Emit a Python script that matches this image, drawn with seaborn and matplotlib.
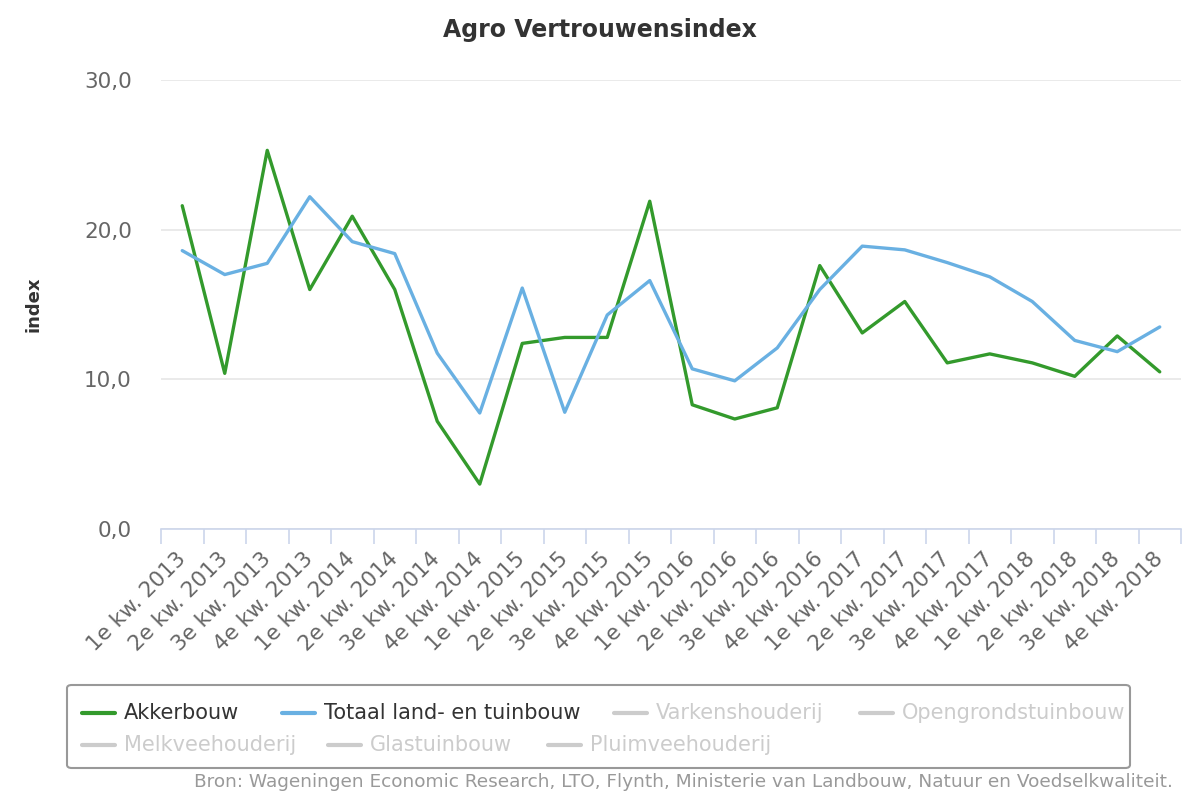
import numpy as np
import pandas as pd
import matplotlib
matplotlib.use("Agg")
import matplotlib.pyplot as plt
import matplotlib.transforms as mtransforms
from matplotlib.lines import Line2D
from matplotlib.patches import FancyBboxPatch
import seaborn as sns

quarters = ["1e kw. 2013", "2e kw. 2013", "3e kw. 2013", "4e kw. 2013",
            "1e kw. 2014", "2e kw. 2014", "3e kw. 2014", "4e kw. 2014",
            "1e kw. 2015", "2e kw. 2015", "3e kw. 2015", "4e kw. 2015",
            "1e kw. 2016", "2e kw. 2016", "3e kw. 2016", "4e kw. 2016",
            "1e kw. 2017", "2e kw. 2017", "3e kw. 2017", "4e kw. 2017",
            "1e kw. 2018", "2e kw. 2018", "3e kw. 2018", "4e kw. 2018"]

akkerbouw = [21.6, 10.4, 25.3, 16.0, 20.9, 16.0, 7.2, 3.0, 12.4, 12.8, 12.8, 21.9,
             8.3, 7.35, 8.1, 17.6, 13.1, 15.2, 11.1, 11.7, 11.1, 10.2, 12.9, 10.5]
totaal = [18.6, 17.0, 17.75, 22.2, 19.2, 18.4, 11.75, 7.75, 16.1, 7.8, 14.3, 16.6,
          10.7, 9.9, 12.1, 16.0, 18.9, 18.65, 17.8, 16.85, 15.2, 12.6, 11.85, 13.5]

series_names = ["Akkerbouw", "Totaal land- en tuinbouw"]
hidden_series = ["Varkenshouderij", "Opengrondstuinbouw", "Melkveehouderij",
                 "Glastuinbouw", "Pluimveehouderij"]
y_ticks = [0, 10, 20, 30]
y_tick_labels = ["0,0", "10,0", "20,0", "30,0"]

title = "Agro Vertrouwensindex"
y_label = "index"
source = "Bron: Wageningen Economic Research, LTO, Flynth, Ministerie van Landbouw, Natuur en Voedselkwaliteit."

colors = {"Akkerbouw": "#339a2c", "Totaal land- en tuinbouw": "#69b0e2"}
hidden_color = "#cccccc"

df = pd.DataFrame({
    "x": list(range(len(quarters))) * 2,
    "value": akkerbouw + totaal,
    "serie": [series_names[0]] * len(quarters) + [series_names[1]] * len(quarters),
})

sns.set_theme(style="white")
plt.rcParams["font.family"] = ["DejaVu Sans"]

fig = plt.figure(figsize=(12, 8), dpi=100)
ax = fig.add_axes([161 / 1200, 1 - 529 / 800, 1020 / 1200, 449 / 800])

sns.lineplot(data=df, x="x", y="value", hue="serie", palette=colors,
             linewidth=2.4, ax=ax, legend=False, sort=False)

ax.set_xlim(-0.5, len(quarters) - 0.5)
ax.set_ylim(0, 30)
ax.set_yticks(y_ticks)
ax.set_yticklabels(y_tick_labels, fontsize=15.5, color="#666666")
ax.yaxis.grid(True, color="#e6e6e6", linewidth=1.2)
ax.set_axisbelow(True)
ax.tick_params(axis="y", length=0, pad=21)

ax.set_xticks(range(len(quarters)))
ax.set_xticklabels(quarters, rotation=45, ha="right", va="top",
                   rotation_mode="anchor", fontsize=15.5, color="#666666")
ax.set_xticks(np.arange(-0.5, len(quarters)), minor=True)
ax.tick_params(axis="x", which="major", length=0, pad=14)
ax.tick_params(axis="x", which="minor", length=11, width=1.2, color="#ccd6eb", bottom=True)
shift = mtransforms.ScaledTranslation(-7 / 100, 0, fig.dpi_scale_trans)
for lbl in ax.get_xticklabels():
    lbl.set_transform(lbl.get_transform() + shift)

for s in ["top", "right", "left"]:
    ax.spines[s].set_visible(False)
ax.spines["bottom"].set_color("#ccd6eb")
ax.spines["bottom"].set_linewidth(1.2)

ax.set_xlabel("")
ax.set_ylabel(y_label, fontsize=13, fontweight="bold", color="#333333")
ax.yaxis.set_label_coords((43 - 161) / 1020, 0.5)

fig.text(600 / 1200, 1 - 30 / 800, title, ha="center", va="center",
         fontsize=17, fontweight="bold", color="#333333")

# legend box
box = FancyBboxPatch((67 / 1200, 1 - 768 / 800), (1130 - 67) / 1200, (768 - 685) / 800,
                     boxstyle="round,pad=0,rounding_size=0.004", transform=fig.transFigure,
                     facecolor="white", edgecolor="#999999", linewidth=1.5)
fig.patches.append(box)

legend_items = [
    (series_names[0], colors[series_names[0]], "#333333", 82, 713),
    (series_names[1], colors[series_names[1]], "#333333", 282, 713),
    (hidden_series[0], hidden_color, hidden_color, 614, 713),
    (hidden_series[1], hidden_color, hidden_color, 860, 713),
    (hidden_series[2], hidden_color, hidden_color, 82, 745),
    (hidden_series[3], hidden_color, hidden_color, 328, 745),
    (hidden_series[4], hidden_color, hidden_color, 548, 745),
]
for label, lc, tc, px, py in legend_items:
    fig.lines.append(Line2D([px / 1200, (px + 33) / 1200], [1 - py / 800, 1 - py / 800],
                            transform=fig.transFigure, color=lc, linewidth=3))
    fig.text((px + 42) / 1200, 1 - py / 800, label, ha="left", va="center",
             fontsize=15, color=tc)

fig.text(1173 / 1200, 1 - 782 / 800, source, ha="right", va="center",
         fontsize=13.3, color="#999999")

fig.savefig("out.png", dpi=100, facecolor="white")
